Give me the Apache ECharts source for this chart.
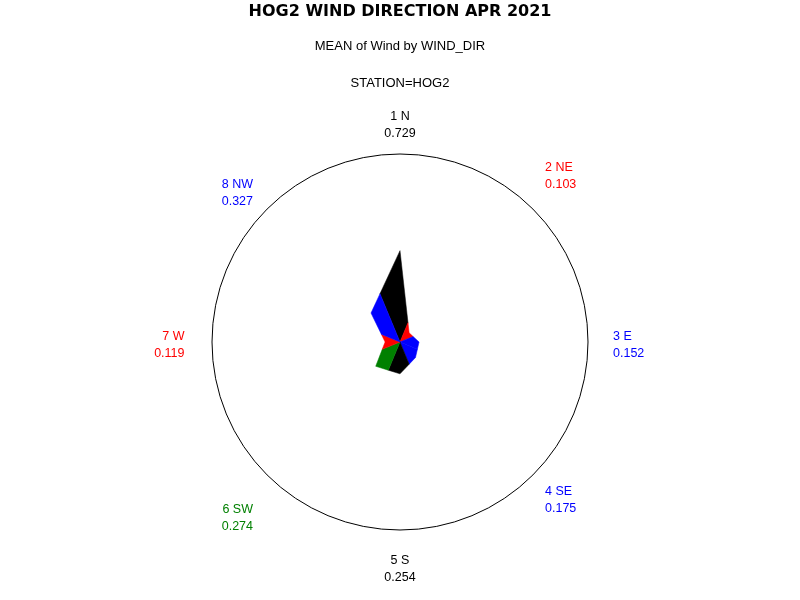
<!DOCTYPE html>
<html>
<head>
<meta charset="utf-8">
<script src="https://cdn.jsdelivr.net/npm/echarts@6/dist/echarts.min.js"></script>
<style>html,body{margin:0;padding:0;background:#fff;}#main{width:800px;height:600px;}</style>
</head>
<body>
<div id="main"></div>
<script>
// ---- data ----
const DIR_LABELS = ['1 N', '2 NE', '3 E', '4 SE', '5 S', '6 SW', '7 W', '8 NW'];
const DIR_ANGLES = [0, 45, 90, 135, 180, 225, 270, 315];
const MEAN_WIND = [0.729, 0.103, 0.152, 0.175, 0.254, 0.274, 0.119, 0.327];
const DIR_COLORS = ['#000000', '#ff0000', '#0000ff', '#0000ff', '#000000', '#008000', '#ff0000', '#0000ff'];

// ---- layout (label anchor offsets from chart centre, px) ----
const LABEL_LAYOUT = [
  [0, -217, 'center'], [145, -166, 'left'], [213, 3.5, 'left'], [145, 158, 'left'],
  [0, 227, 'center'], [-147, 176, 'right'], [-215.5, 3, 'right'], [-147, -149, 'right']
];
const FONT = '"Liberation Sans", Arial, sans-serif';

const n = MEAN_WIND.length;
const half = 360 / n / 2;
const sliceData = MEAN_WIND.map((v, i) => [v, DIR_ANGLES[i], MEAN_WIND[(i + n - 1) % n], MEAN_WIND[(i + 1) % n], i]);

function bis(a, b) { // radius where the edge between two vertices crosses the bisector
  return 2 * a * b * Math.cos(half * Math.PI / 180) / (a + b);
}
function norm(a) { return ((a % 360) + 360) % 360; }

const chart = echarts.init(document.getElementById('main'));
chart.setOption({
  animation: false,
  backgroundColor: '#fff',
  title: [
    {text: 'HOG2 WIND DIRECTION APR 2021', left: 'center', top: 4, padding: 0,
     textStyle: {fontFamily: '"DejaVu Sans", sans-serif', fontWeight: 'bold', fontSize: 16, color: '#000'}},
    {text: 'MEAN of Wind by WIND_DIR', left: 'center', top: 40, padding: 0,
     textStyle: {fontFamily: FONT, fontWeight: 'normal', fontSize: 13, color: '#000'}},
    {text: 'STATION=HOG2', left: 'center', top: 77, padding: 0,
     textStyle: {fontFamily: FONT, fontWeight: 'normal', fontSize: 13, color: '#000'}}
  ],
  polar: {center: [400, 342], radius: 188},
  angleAxis: {type: 'value', min: 0, max: 360, startAngle: 90, clockwise: true,
    axisLine: {show: true, lineStyle: {color: '#000', width: 1}},
    axisTick: {show: false}, axisLabel: {show: false}, splitLine: {show: false}},
  radiusAxis: {type: 'value', min: 0, max: 1.5,
    axisLine: {show: false}, axisTick: {show: false}, axisLabel: {show: false}, splitLine: {show: false}},
  series: [
    {
      type: 'custom', coordinateSystem: 'polar', data: sliceData, silent: true,
      encode: {radius: 0, angle: 1},
      renderItem: function (params, api) {
        const v = api.value(0), ang = api.value(1), pv = api.value(2), nv = api.value(3), idx = api.value(4);
        const c = api.coord([0, ang]);
        const p1 = api.coord([bis(v, pv), norm(ang - half)]);
        const p2 = api.coord([v, ang]);
        const p3 = api.coord([bis(v, nv), norm(ang + half)]);
        return {type: 'polygon', shape: {points: [c, p1, p2, p3]},
          style: {fill: DIR_COLORS[idx], stroke: DIR_COLORS[idx], lineWidth: 0.5}};
      }
    },
    {
      type: 'custom', coordinateSystem: 'polar', data: sliceData, silent: true,
      encode: {radius: 0, angle: 1},
      renderItem: function (params, api) {
        const i = params.dataIndex;
        const c = api.coord([0, 0]);
        const L = LABEL_LAYOUT[i];
        return {type: 'text', x: c[0] + L[0], y: c[1] + L[1],
          style: {text: DIR_LABELS[i] + '\n' + MEAN_WIND[i].toFixed(3), fill: DIR_COLORS[i],
            fontFamily: FONT, fontSize: 12.5, lineHeight: 17, align: L[2], verticalAlign: 'middle'}};
      }
    }
  ]
});
</script>
</body>
</html>
